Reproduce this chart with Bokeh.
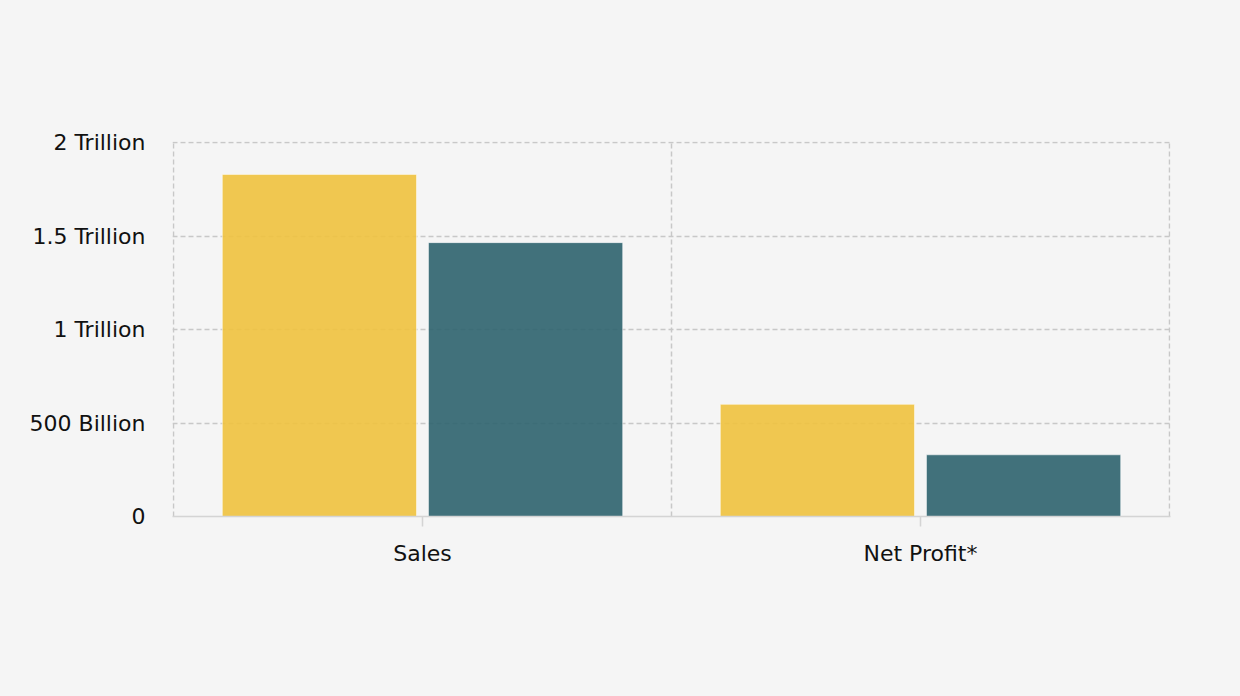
from bokeh.plotting import figure
from bokeh.models import FixedTicker, Grid, ColumnDataSource, Range1d
from bokeh.embed import file_html
from bokeh.resources import INLINE

categories = ["Sales", "Net Profit*"]
series_1 = [1.83e12, 0.60e12]
series_2 = [1.465e12, 0.33e12]
colors = ["#efc23e", "#2e636e"]
y_ticks = [0, 0.5e12, 1e12, 1.5e12, 2e12]
y_labels = ["0", "500 Billion", "1 Trillion", "1.5 Trillion", "2 Trillion"]

FONT = "DejaVu Sans"
BG = "#f5f5f5"

n = len(categories)
p = figure(width=1240, height=696, output_backend="svg", toolbar_location=None,
           x_range=Range1d(-0.002, n + 0.002), y_range=Range1d(0, 2e12 * 1.003),
           min_border_left=172, min_border_right=70, min_border_top=141, min_border_bottom=180)
p.background_fill_color = BG
p.border_fill_color = BG
p.outline_line_color = None

centers = [i + 0.5 for i in range(n)]
bw = 0.39
off = 0.207
for vals, col, sgn in [(series_1, colors[0], -1), (series_2, colors[1], 1)]:
    src = ColumnDataSource(dict(x=[c + sgn * off for c in centers], top=vals))
    p.vbar(x="x", top="top", width=bw, source=src, fill_color=col, fill_alpha=0.9,
           line_color="white", line_alpha=0.5, line_width=1)

# axes
p.xaxis.ticker = FixedTicker(ticks=centers)
p.xaxis.major_label_overrides = {c: lab for c, lab in zip(centers, categories)}
p.xaxis.axis_line_color = "#d4d4d4"
p.xaxis.axis_line_width = 1.5
p.xaxis.major_tick_line_color = "#d4d4d4"
p.xaxis.major_tick_line_width = 1.5
p.xaxis.major_tick_out = 10
p.xaxis.major_tick_in = 0
p.xaxis.minor_tick_line_color = None
p.xaxis.major_label_standoff = 14
p.xaxis.major_label_text_font = FONT
p.xaxis.major_label_text_font_size = "22px"
p.xaxis.major_label_text_color = "#111111"

p.yaxis.ticker = FixedTicker(ticks=y_ticks)
p.yaxis.major_label_overrides = {t: lab for t, lab in zip(y_ticks, y_labels)}
p.yaxis.axis_line_color = None
p.yaxis.major_tick_line_color = None
p.yaxis.minor_tick_line_color = None
p.yaxis.major_label_standoff = 21
p.yaxis.major_label_text_font = FONT
p.yaxis.major_label_text_font_size = "22px"
p.yaxis.major_label_text_color = "#111111"

# grids
GRID_COLOR = "#c8c8c8"
p.xgrid.visible = False
p.ygrid.grid_line_color = GRID_COLOR
p.ygrid.grid_line_dash = "5 3"
p.ygrid.grid_line_width = 1.5
p.ygrid.ticker = FixedTicker(ticks=y_ticks[1:])
vgrid = Grid(dimension=0, ticker=FixedTicker(ticks=list(range(n + 1))),
             grid_line_color=GRID_COLOR, grid_line_dash="5 3", grid_line_width=1.5)
p.add_layout(vgrid)

html = file_html(p, INLINE)
html = html.replace("</head>", "<style>html,body{background:#f5f5f5;margin:0;}</style></head>", 1)
open("out.html", "w").write(html)
